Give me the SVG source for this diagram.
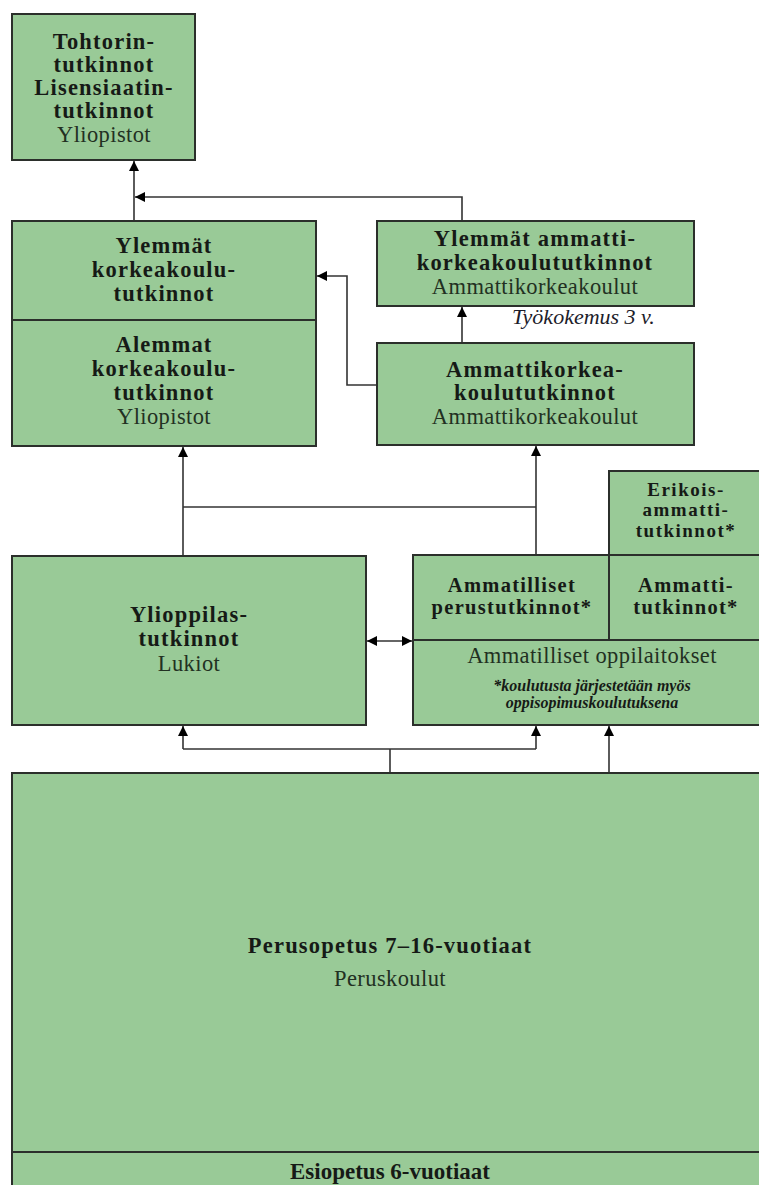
<svg xmlns="http://www.w3.org/2000/svg" width="759" height="1185" viewBox="0 0 759 1185">
  <style>
    .box { fill: #99ca97; stroke: #2b2f2b; stroke-width: 2; }
    .div { stroke: #2b2f2b; stroke-width: 2; fill: none; }
    .conn { stroke: #333; stroke-width: 1.6; fill: none; }
    text { font-family: "Liberation Serif", "Times New Roman", serif; text-anchor: middle; fill: #161a16; }
    .b { font-weight: bold; font-size: 22.5px; letter-spacing: 1.2px; }
    .r { font-size: 22.5px; letter-spacing: 0.4px; fill: #223022; }
    .bm { font-weight: bold; font-size: 20.5px; letter-spacing: 1.3px; }
    .bs { font-weight: bold; font-size: 19px; letter-spacing: 1.5px; }
    .note { font-style: italic; font-size: 22px; fill: #1c1c2a; text-anchor: start; }
    .fn { font-style: italic; font-size: 16px; font-weight: bold; }
    .pre { font-weight: bold; font-size: 23px; }
  </style>
  <defs>
    <marker id="arrow" viewBox="0 0 10 10" refX="10" refY="5" markerWidth="11" markerHeight="10" markerUnits="userSpaceOnUse" orient="auto-start-reverse">
      <path d="M0,0 L10,5 L0,10 z" fill="#000"/>
    </marker>
  </defs>
  <rect width="759" height="1185" fill="#fff"/>

  <!-- connectors -->
  <g id="connectors">
    <!-- doctoral: from university masters and from polytechnic masters -->
    <path class="conn" d="M134,220 V161" marker-end="url(#arrow)"/>
    <path class="conn" d="M462,221 V197 H135" marker-end="url(#arrow)"/>
    <!-- polytechnic bachelor to polytechnic masters -->
    <path class="conn" d="M462,343 V307" marker-end="url(#arrow)"/>
    <!-- polytechnic bachelor to university masters -->
    <path class="conn" d="M377,385 H347 V276 H317" marker-end="url(#arrow)"/>
    <!-- upper secondary to higher education -->
    <path class="conn" d="M183,556 V447" marker-end="url(#arrow)"/>
    <path class="conn" d="M536,555 V446" marker-end="url(#arrow)"/>
    <path class="conn" d="M183,507 H536"/>
    <!-- between general and vocational upper secondary -->
    <path class="conn" d="M367,641 H412" marker-start="url(#arrow)" marker-end="url(#arrow)"/>
    <!-- basic education to upper secondary -->
    <path class="conn" d="M390,773 V749"/>
    <path class="conn" d="M183,749 H536"/>
    <path class="conn" d="M183,749 V726" marker-end="url(#arrow)"/>
    <path class="conn" d="M536,749 V726" marker-end="url(#arrow)"/>
    <path class="conn" d="M609,773 V726" marker-end="url(#arrow)"/>
  </g>

  <g id="tohtorin">
    <rect class="box" x="12" y="14" width="183" height="146"/>
    <text class="b" x="104" y="49">Tohtorin-</text>
    <text class="b" x="104" y="72">tutkinnot</text>
    <text class="b" x="104" y="95">Lisensiaatin-</text>
    <text class="b" x="104" y="118">tutkinnot</text>
    <text class="r" x="104" y="142">Yliopistot</text>
  </g>

  <g id="korkeakoulu">
    <rect class="box" x="12" y="221" width="304" height="225"/>
    <line class="div" x1="12" y1="320" x2="316" y2="320"/>
    <text class="b" x="164" y="253">Ylemmät</text>
    <text class="b" x="164" y="277">korkeakoulu-</text>
    <text class="b" x="164" y="301">tutkinnot</text>
    <text class="b" x="164" y="352">Alemmat</text>
    <text class="b" x="164" y="376">korkeakoulu-</text>
    <text class="b" x="164" y="400">tutkinnot</text>
    <text class="r" x="164" y="424">Yliopistot</text>
  </g>

  <g id="ylemmat-amk">
    <rect class="box" x="377" y="221" width="317" height="85"/>
    <text class="b" x="535" y="246">Ylemmät ammatti-</text>
    <text class="b" x="535" y="270">korkeakoulututkinnot</text>
    <text class="r" x="535" y="294">Ammattikorkeakoulut</text>
  </g>

  <g id="tyokokemus">
    <text class="note" x="512" y="324">Työkokemus 3 v.</text>
  </g>

  <g id="amk">
    <rect class="box" x="377" y="343" width="317" height="102"/>
    <text class="b" x="535" y="377">Ammattikorkea-</text>
    <text class="b" x="535" y="400">koulututkinnot</text>
    <text class="r" x="535" y="424">Ammattikorkeakoulut</text>
  </g>

  <g id="erikois">
    <rect class="box" x="609" y="471" width="160" height="84"/>
    <text class="bs" x="686" y="496">Erikois-</text>
    <text class="bs" x="686" y="516">ammatti-</text>
    <text class="bs" x="686" y="537">tutkinnot*</text>
  </g>

  <g id="ylioppilas">
    <rect class="box" x="12" y="556" width="354" height="169"/>
    <text class="b" x="189" y="622">Ylioppilas-</text>
    <text class="b" x="189" y="646">tutkinnot</text>
    <text class="r" x="189" y="671">Lukiot</text>
  </g>

  <g id="ammatilliset">
    <rect class="box" x="413" y="555" width="356" height="170"/>
    <line class="div" x1="413" y1="640" x2="769" y2="640"/>
    <line class="div" x1="609" y1="555" x2="609" y2="640"/>
    <text class="bm" x="512" y="592">Ammatilliset</text>
    <text class="bm" x="512" y="614">perustutkinnot*</text>
    <text class="bm" x="686" y="592">Ammatti-</text>
    <text class="bm" x="686" y="614">tutkinnot*</text>
    <text class="r" x="592" y="663">Ammatilliset oppilaitokset</text>
    <text class="fn" x="592" y="691">*koulutusta järjestetään myös</text>
    <text class="fn" x="592" y="708">oppisopimuskoulutuksena</text>
  </g>

  <g id="perusopetus">
    <rect class="box" x="12" y="773" width="757" height="422"/>
    <line class="div" x1="12" y1="1152" x2="769" y2="1152"/>
    <text class="b" x="390" y="953">Perusopetus 7–16-vuotiaat</text>
    <text class="r" x="390" y="986">Peruskoulut</text>
    <text class="pre" x="390" y="1179">Esiopetus 6-vuotiaat</text>
  </g>
</svg>
